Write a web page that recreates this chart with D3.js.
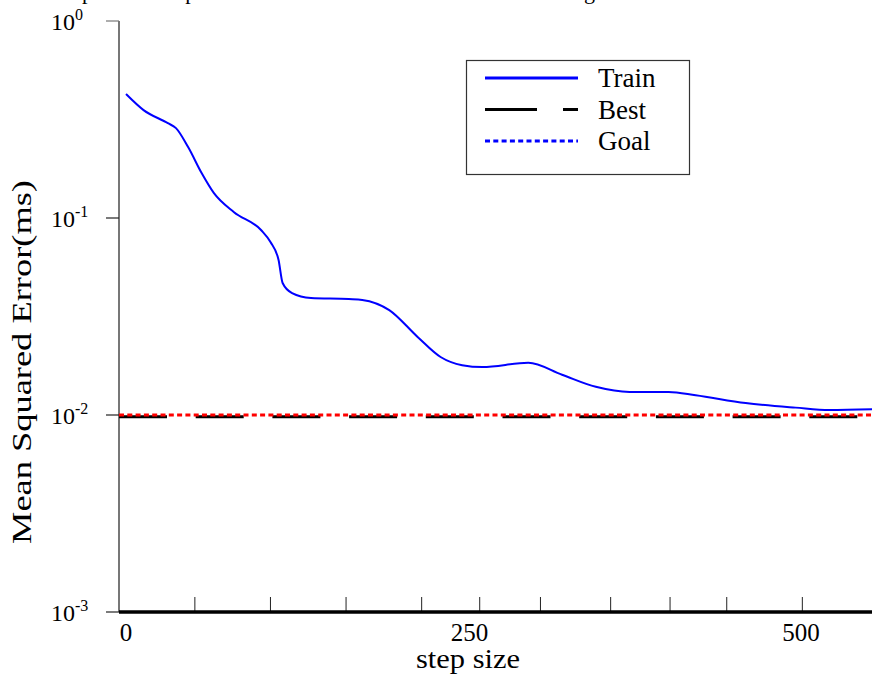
<!DOCTYPE html>
<html>
<head>
<meta charset="utf-8">
<script src="https://cdn.jsdelivr.net/npm/d3@7"></script>
<style>
  html, body { margin: 0; padding: 0; background: #fff; }
  svg { display: block; }
  text { font-family: "Liberation Serif", "Times New Roman", serif; fill: #000; }
</style>
</head>
<body>
<svg id="chart" width="872" height="677"></svg>
<script>
// Training error per step (mean squared error, log scale)
const trainSteps = [0, 13, 31, 37, 46, 56, 65, 80, 100, 107, 113, 116, 123, 137, 165, 175, 195, 216, 233, 249, 264, 298, 323, 348, 373, 402, 422, 459, 496, 521, 553];
const trainMse   = [0.426, 0.353, 0.303, 0.286, 0.229, 0.169, 0.134, 0.107, 0.0869, 0.0755, 0.0612, 0.0468, 0.0416, 0.0393, 0.0388, 0.0384, 0.0341, 0.0249, 0.0197, 0.0179, 0.0175, 0.0184, 0.0160, 0.0139, 0.0131, 0.0131, 0.0126, 0.0115, 0.0109, 0.0106, 0.0107];
const bestMse = 0.0098;
const goalMse = 0.01;

const xTickLabels = [0, 250, 500];
const xMinorTicks = [51, 107, 163, 219, 262, 307, 359, 403, 445, 501];
const yTickExponents = [0, -1, -2, -3];

const legendNames = ["Train", "Best", "Goal"];
const titleText = "Error plot for the performance of the network in the last training";
const xTitle = "step size";
const yTitle = "Mean Squared Error(ms)";

const svg = d3.select("#chart");
const plot = { left: 119, right: 872, top: 21, bottom: 612 };

const x = d3.scaleLinear().domain([-5.2, 552.6]).range([plot.left, plot.right]);
const y = d3.scaleLog().domain([1e-3, 1]).range([plot.bottom, plot.top]);

// Title (sits above the top edge)
svg.append("text")
  .attr("x", 30).attr("y", -1)
  .attr("font-size", 22)
  .text(titleText);

// Y axis
svg.append("line")
  .attr("x1", plot.left).attr("x2", plot.left)
  .attr("y1", plot.top).attr("y2", plot.bottom)
  .attr("stroke", "#777").attr("stroke-width", 2);

const yTicks = svg.append("g");
yTickExponents.forEach(e => {
  const yy = y(Math.pow(10, e));
  yTicks.append("line")
    .attr("x1", plot.left - 13).attr("x2", plot.left)
    .attr("y1", yy).attr("y2", yy)
    .attr("stroke", e === 0 ? "#777" : "#222").attr("stroke-width", 1.2);
  const t = yTicks.append("text")
    .attr("x", 51).attr("y", yy + 9)
    .attr("font-size", 24);
  t.append("tspan").text("10");
  t.append("tspan").attr("dy", -10).attr("font-size", 16).text(e === 0 ? "0" : "-" + (-e));
});

svg.append("text")
  .attr("transform", `translate(31,362) rotate(-90)`)
  .attr("text-anchor", "middle")
  .attr("font-size", 28)
  .attr("textLength", 364)
  .attr("lengthAdjust", "spacingAndGlyphs")
  .text(yTitle);

// X axis
const xAxis = svg.append("g");
xMinorTicks.forEach(v => {
  xAxis.append("line")
    .attr("x1", x(v)).attr("x2", x(v))
    .attr("y1", plot.bottom).attr("y2", plot.bottom - 15)
    .attr("stroke", "#222").attr("stroke-width", 1);
});
xAxis.append("line")
  .attr("x1", plot.left).attr("x2", plot.right)
  .attr("y1", plot.bottom).attr("y2", plot.bottom)
  .attr("stroke", "#000").attr("stroke-width", 3.5);
xTickLabels.forEach(v => {
  xAxis.append("text")
    .attr("x", x(v) + (v === 250 ? 6 : 0)).attr("y", plot.bottom + 29)
    .attr("text-anchor", "middle")
    .attr("font-size", 25)
    .text(v);
});
svg.append("text")
  .attr("x", 468).attr("y", 668)
  .attr("text-anchor", "middle")
  .attr("font-size", 27)
  .attr("textLength", 104)
  .attr("lengthAdjust", "spacingAndGlyphs")
  .text(xTitle);

// Best and goal reference lines
svg.append("line")
  .attr("x1", plot.left).attr("x2", plot.right)
  .attr("y1", y(bestMse)).attr("y2", y(bestMse))
  .attr("stroke", "#000").attr("stroke-width", 3)
  .attr("stroke-dasharray", "48,28.7");
svg.append("line")
  .attr("x1", plot.left).attr("x2", plot.right)
  .attr("y1", y(goalMse)).attr("y2", y(goalMse))
  .attr("stroke", "#ff0000").attr("stroke-width", 3)
  .attr("stroke-dasharray", "5,3.3");

// Training curve
const line = d3.line()
  .x((d, i) => x(trainSteps[i]))
  .y(d => y(d))
  .curve(d3.curveMonotoneX);
svg.append("path")
  .datum(trainMse)
  .attr("d", line)
  .attr("fill", "none")
  .attr("stroke", "#0000ff")
  .attr("stroke-width", 2);

// Legend
const lg = svg.append("g");
lg.append("rect")
  .attr("x", 466.5).attr("y", 60.5).attr("width", 223).attr("height", 114)
  .attr("fill", "#fff").attr("stroke", "#333").attr("stroke-width", 1.2);
const legendStyles = [
  { color: "#0000ff", dash: null },
  { color: "#000", dash: "52,26" },
  { color: "#0000ff", dash: "5,3.3" }
];
legendNames.forEach((name, i) => {
  const yy = 78 + i * 31.5;
  lg.append("line")
    .attr("x1", 485).attr("x2", 578)
    .attr("y1", yy).attr("y2", yy)
    .attr("stroke", legendStyles[i].color)
    .attr("stroke-width", 3)
    .attr("stroke-dasharray", legendStyles[i].dash);
  lg.append("text")
    .attr("x", 598).attr("y", yy + 9)
    .attr("font-size", 27)
    .text(name);
});
</script>
</body>
</html>
